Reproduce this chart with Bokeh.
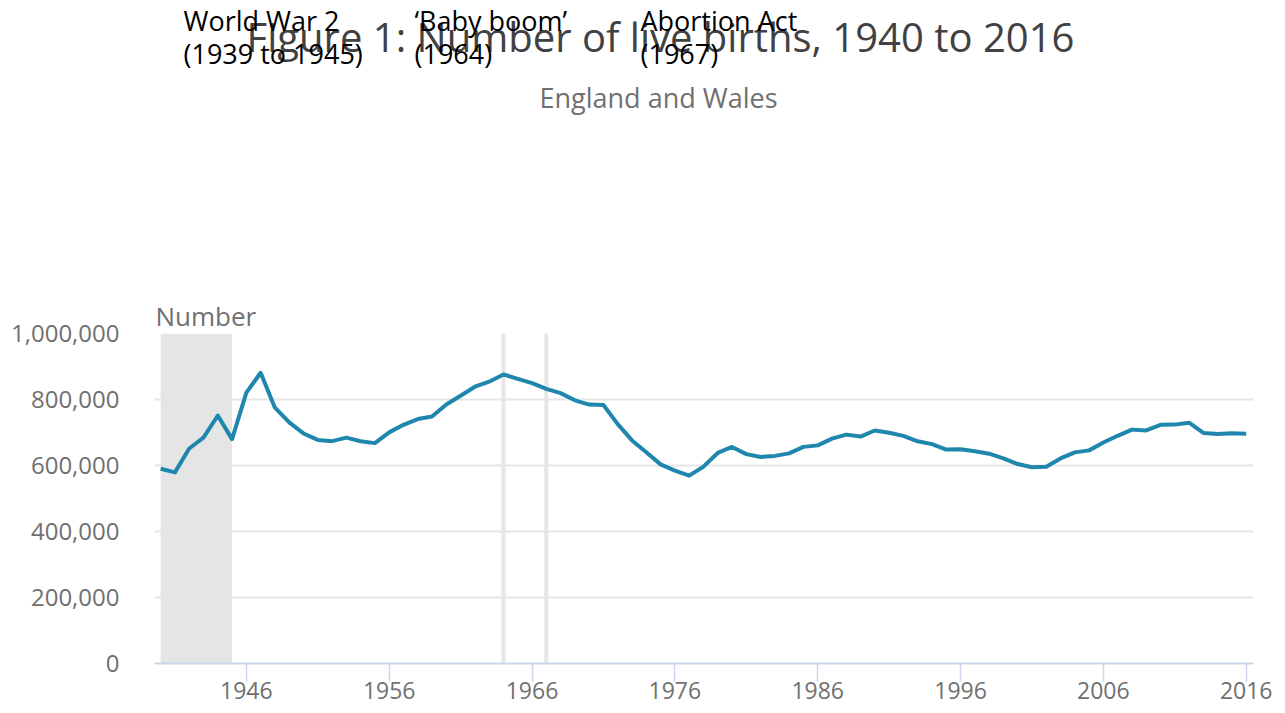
from bokeh.plotting import figure
from bokeh.layouts import column
from bokeh.models import (Range1d, FixedTicker, NumeralTickFormatter, BoxAnnotation,
                          Span, Title)
from bokeh.embed import file_html
from bokeh.resources import INLINE

# ---- data ----
years = list(range(1940, 2017))
births = [
    590120, 579091, 651503, 684334, 751478, 679937, 820719, 881026, 775306, 730518,
    697097, 677529, 673735, 684372, 673651, 667811, 700335, 723381, 740715, 748501,
    785005, 811281, 838736, 854055, 875972, 862725, 849823, 832164, 819272, 797538,
    784486, 783155, 725440, 675953, 639885, 603445, 584270, 569259, 596418, 638028,
    656234, 634492, 625931, 629134, 636818, 656417, 661018, 681511, 693577, 687725,
    706140, 699217, 689656, 673467, 664726, 648138, 649485, 643095, 635901, 621872,
    604441, 594634, 596122, 621469, 639721, 645835, 669601, 690013, 708711, 706248,
    723165, 723913, 729674, 698512, 695233, 697852, 696271,
]
x_ticks = [1946, 1956, 1966, 1976, 1986, 1996, 2006, 2016]
y_ticks = [0, 200000, 400000, 600000, 800000, 1000000]
war_period = (1940, 1945)
event_years = [1964, 1967]
ann_line1 = ["World War 2", "\u2018Baby boom\u2019", "Abortion Act"]
ann_line2 = ["(1939 to 1945)", "(1964)", "(1967)"]
title_text = "Figure 1: Number of live births, 1940 to 2016"
subtitle_text = "England and Wales"
y_title = "Number"

FONT = "Open Sans"
GREY = "#707070"
W = 1285
HEAD_H = 150
MAIN_H = 713 - HEAD_H
LEFT, RIGHT = 154, 32

# ---------- header (title, subtitle, event notes) in pixel coordinates ----------
head = figure(width=W, height=HEAD_H, output_backend="svg", toolbar_location=None,
              x_range=Range1d(LEFT, W - RIGHT), y_range=Range1d(HEAD_H, 0),
              x_axis_type=None, y_axis_type=None,
              min_border_left=LEFT, min_border_right=RIGHT,
              min_border_top=0, min_border_bottom=0)
head.outline_line_color = None
head.background_fill_color = "white"
head.border_fill_color = "white"

head.text(x=[660], y=[36], text=[title_text], text_align="center",
          text_baseline="alphabetic", text_font={"value": FONT},
          text_font_size={"value": "40px"}, text_color="#414042")
head.text(x=[658], y=[97], text=[subtitle_text], text_align="center",
          text_baseline="alphabetic", text_font={"value": FONT},
          text_font_size={"value": "27px"}, text_color=GREY)
ann_x = [183, 414, 640]
head.text(x=ann_x, y=[20, 20, 20], text=ann_line1, text_align="left",
          text_baseline="alphabetic", text_font={"value": FONT},
          text_font_size={"value": "27px"}, text_color="black")
head.text(x=ann_x, y=[53, 53, 53], text=ann_line2, text_align="left",
          text_baseline="alphabetic", text_font={"value": FONT},
          text_font_size={"value": "27px"}, text_color="black")

# ---------- main chart ----------
p = figure(width=W, height=MAIN_H, output_backend="svg", toolbar_location=None,
           x_range=Range1d(1939.57, 2016.51), y_range=Range1d(0, 1000000),
           min_border_left=LEFT, min_border_right=RIGHT, min_border_top=333 - HEAD_H,
           min_border_bottom=50)
p.outline_line_color = None
p.background_fill_color = "white"
p.border_fill_color = "white"

p.add_layout(Title(text=y_title, align="left", offset=1, standoff=0,
                   text_font=FONT, text_font_size="26px", text_font_style="normal",
                   text_color=GREY), "above")

# grid
p.xgrid.visible = False
p.ygrid.grid_line_color = "#e6e6e6"
p.ygrid.grid_line_width = 2
p.ygrid.ticker = FixedTicker(ticks=y_ticks)

# shaded war period and event lines
p.add_layout(BoxAnnotation(left=war_period[0], right=war_period[1],
                           fill_color="#e5e5e5", fill_alpha=1.0,
                           line_color=None, level="underlay"))
for ev in event_years:
    p.add_layout(Span(location=ev, dimension="height", line_color="#e6e6e6",
                      line_width=4, level="underlay"))

# the series
p.line(years, births, line_color="#1f86ad", line_width=4, line_join="round")

# y axis
yax = p.yaxis[0]
yax.ticker = FixedTicker(ticks=y_ticks)
yax.formatter = NumeralTickFormatter(format="0,0")
yax.axis_line_color = None
yax.major_tick_line_color = None
yax.minor_tick_line_color = None
yax.major_tick_out = 0
yax.major_tick_in = 0
yax.major_label_standoff = 35
yax.major_label_text_font = FONT
yax.major_label_text_font_size = "24px"
yax.major_label_text_color = GREY

# x axis
xax = p.xaxis[0]
xax.ticker = FixedTicker(ticks=x_ticks)
xax.axis_line_color = "#ccd6eb"
xax.axis_line_width = 2
xax.major_tick_line_color = "#ccd6eb"
xax.major_tick_line_width = 1.5
xax.major_tick_out = 18
xax.major_tick_in = 0
xax.minor_tick_line_color = None
xax.major_label_standoff = 0
xax.major_label_text_font = FONT
xax.major_label_text_font_size = "23px"
xax.major_label_text_color = GREY

layout = column(head, p, spacing=0)
open("out.html", "w").write(file_html(layout, INLINE))
